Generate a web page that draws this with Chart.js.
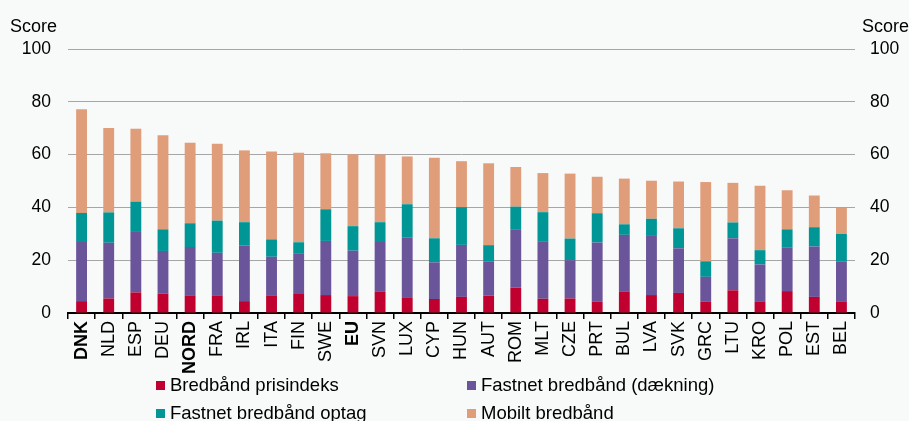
<!DOCTYPE html>
<html>
<head>
<meta charset="utf-8">
<script src="https://cdn.jsdelivr.net/npm/chart.js@4/dist/chart.umd.min.js"></script>
<style>
  html, body { margin: 0; padding: 0; background: #f8f9f9; }
  body { width: 909px; height: 421px; position: relative; overflow: hidden; font-family: "Liberation Sans", Arial, sans-serif; }
  #wrap { position: absolute; left: 0; top: 0; width: 909px; height: 421px; }
  .score { position: absolute; top: 14.5px; font-size: 18px; line-height: 22px; color: #000; }
  .legend { position: absolute; font-size: 18.5px; color: #000; line-height: 22px; white-space: nowrap; }
  .legend i { display: inline-block; width: 9px; height: 9px; margin-right: 5px; vertical-align: 1px; }
</style>
</head>
<body>
<div id="wrap"><canvas id="myChart" width="909" height="421"></canvas></div>
<div class="score" style="left:10px">Score</div>
<div class="score" style="right:0px">Score</div>
<div id="legend"></div>
<script>
const categories = ['DNK', 'NLD', 'ESP', 'DEU', 'NORD', 'FRA', 'IRL', 'ITA', 'FIN', 'SWE', 'EU', 'SVN', 'LUX', 'CYP', 'HUN',
  'AUT', 'ROM', 'MLT', 'CZE', 'PRT', 'BUL', 'LVA', 'SVK', 'GRC', 'LTU', 'KRO', 'POL', 'EST', 'BEL'];
const boldLabels = ['DNK', 'NORD', 'EU'];

const prisindeks = [4.5, 5.5, 7.8, 7.4, 6.7, 6.7, 4.5, 6.7, 7.2, 6.8, 6.4, 8.0, 5.7, 5.3, 6.1,
  6.6, 9.6, 5.4, 5.5, 4.4, 8.2, 6.8, 7.6, 4.4, 8.6, 4.2, 8.3, 6.1, 4.2];
const daekning = [22.4, 21.1, 22.9, 16.1, 18.3, 16.1, 21.0, 14.6, 15.2, 20.5, 17.2, 18.9, 22.8, 13.9, 19.7,
  13.0, 21.9, 21.8, 14.5, 22.3, 21.4, 22.7, 16.9, 9.3, 19.7, 14.2, 16.4, 19.1, 15.4];
const optag = [11.0, 11.5, 11.5, 8.2, 9.0, 12.2, 8.9, 6.6, 4.4, 12.0, 9.3, 7.5, 12.7, 9.1, 14.3,
  6.1, 8.8, 11.0, 8.2, 11.1, 4.0, 6.2, 7.6, 5.9, 6.0, 5.4, 7.0, 7.3, 10.4];
const mobilt = [39.3, 32.0, 27.6, 35.6, 30.5, 29.1, 27.2, 33.3, 33.9, 21.2, 27.2, 25.6, 18.1, 30.5, 17.4,
  31.0, 15.0, 14.8, 24.6, 13.8, 17.3, 14.4, 17.7, 30.0, 15.0, 24.4, 14.8, 12.0, 9.8];
const yTicks = [0, 20, 40, 60, 80, 100];

const series = [
  { label: 'Bredbånd prisindeks', data: prisindeks, color: '#c0002e' },
  { label: 'Fastnet bredbånd (dækning)', data: daekning, color: '#6a549a' },
  { label: 'Fastnet bredbånd optag', data: optag, color: '#009696' },
  { label: 'Mobilt bredbånd', data: mobilt, color: '#e09d7a' }
];

const fontFamily = '"Liberation Sans", Arial, sans-serif';

const yAxis = (pos, width, pad) => ({
  position: pos,
  stacked: true,
  min: 0,
  max: 100,
  afterBuildTicks: (s) => { s.ticks = yTicks.map(v => ({ value: v })); },
  afterFit: (s) => { s.width = width; },
  grid: { display: pos === 'left', color: '#a6a6a6', lineWidth: 1, drawTicks: false },
  border: { display: false },
  ticks: { color: '#000', padding: pad, font: { size: 17.5, family: fontFamily } }
});

new Chart(document.getElementById('myChart').getContext('2d'), {
  type: 'bar',
  data: {
    labels: categories,
    datasets: series.map(s => ({
      label: s.label,
      data: s.data,
      backgroundColor: s.color,
      borderWidth: 0,
      barPercentage: 0.4,
      categoryPercentage: 1,
      yAxisID: 'y'
    }))
  },
  options: {
    responsive: false,
    animation: false,
    layout: { padding: { top: 49, bottom: 0, left: 0, right: 0 } },
    plugins: { legend: { display: false }, tooltip: { enabled: false } },
    scales: {
      x: {
        stacked: true,
        afterFit: (s) => { s.height = 108; },
        grid: { drawOnChartArea: false, color: '#000', lineWidth: 1.5, tickLength: 6, offset: true },
        border: { color: '#000', width: 2 },
        ticks: {
          color: '#000',
          padding: 2,
          maxRotation: 90,
          minRotation: 90,
          autoSkip: false,
          font: (ctx) => ({
            size: 18,
            family: fontFamily,
            weight: boldLabels.includes(categories[ctx.index]) ? 'bold' : 'normal'
          })
        }
      },
      y: yAxis('left', 68, 17),
      y2: yAxis('right', 54, 15)
    }
  }
});

// legend laid out in two columns, like the original
const legendPos = [[156, 373.5], [467, 373.5], [156, 401.5], [467, 401.5]];
const legendEl = document.getElementById('legend');
series.forEach((s, i) => {
  const d = document.createElement('div');
  d.className = 'legend';
  d.style.left = legendPos[i][0] + 'px';
  d.style.top = legendPos[i][1] + 'px';
  d.innerHTML = '<i style="background:' + s.color + '"></i>' + s.label;
  legendEl.appendChild(d);
});
</script>
</body>
</html>
